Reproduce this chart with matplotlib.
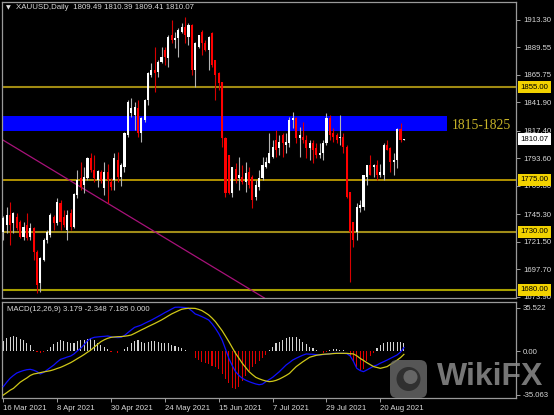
import matplotlib
matplotlib.use("Agg")
import numpy as np
import matplotlib.pyplot as plt
import matplotlib.transforms as mtransforms
from matplotlib.patches import FancyBboxPatch, Circle

plt.rcParams["font.family"] = ["Liberation Sans", "DejaVu Sans"]

# XAUUSD daily candles, bar 0 = 16 Mar 2021
OPEN = [1730.2, 1736.0, 1744.6, 1737.4, 1743.1, 1738.8, 1725.9, 1735.9, 1725.9, 1733.1,
        1712.9, 1685.5, 1705.7, 1723.0, 1727.3, 1743.1, 1737.4, 1754.7, 1743.1, 1731.6,
        1746.0, 1734.5, 1761.9, 1776.3, 1770.5, 1776.3, 1793.6, 1783.5, 1774.9, 1782.1,
        1768.0, 1782.0, 1773.4, 1774.9, 1792.1, 1777.7, 1786.4, 1813.8, 1832.5, 1831.0,
        1836.8, 1815.2, 1826.7, 1844.0, 1865.6, 1870.0, 1868.5, 1877.1, 1887.2, 1880.1,
        1900.2, 1895.9, 1897.3, 1903.1, 1907.4, 1898.8, 1908.9, 1870.0, 1890.1, 1903.1,
        1893.0, 1887.2, 1901.7, 1878.6, 1867.1, 1859.9, 1810.9, 1796.5, 1763.3, 1784.0,
        1777.0, 1777.7, 1773.4, 1782.0, 1777.7, 1760.4, 1769.1, 1776.3, 1786.4, 1789.3,
        1795.0, 1809.4, 1802.3, 1813.8, 1805.1, 1806.6, 1826.7, 1828.2, 1810.9, 1812.3,
        1809.4, 1802.3, 1806.6, 1802.3, 1796.5, 1797.9, 1806.6, 1828.2, 1815.2, 1813.8,
        1810.9, 1812.3, 1803.7, 1764.7, 1738.8, 1730.2, 1750.4, 1751.8, 1777.7, 1787.8,
        1786.4, 1787.8, 1779.2, 1779.2, 1805.1, 1802.3, 1790.7, 1792.1, 1818.9, 1809.49]
HIGH = [1743.7, 1751.2, 1756.1, 1747.5, 1746.0, 1740.3, 1738.5, 1746.0, 1737.3, 1734.5,
        1714.3, 1708.5, 1724.4, 1731.6, 1746.0, 1744.6, 1759.0, 1757.6, 1748.9, 1748.9,
        1749.5, 1763.3, 1783.5, 1790.6, 1786.3, 1795.0, 1797.9, 1796.5, 1783.5, 1783.5,
        1790.0, 1789.0, 1776.3, 1797.9, 1799.4, 1789.3, 1816.6, 1844.0, 1845.5, 1842.0,
        1844.0, 1829.6, 1845.0, 1868.5, 1875.7, 1890.1, 1878.6, 1890.1, 1890.1, 1900.2,
        1913.2, 1903.1, 1906.0, 1910.3, 1916.1, 1910.3, 1910.0, 1894.4, 1900.5, 1904.5,
        1896.0, 1899.0, 1903.0, 1878.6, 1868.5, 1859.9, 1812.3, 1796.5, 1786.3, 1789.3,
        1795.0, 1787.8, 1790.7, 1786.3, 1779.0, 1774.9, 1783.5, 1795.0, 1795.0, 1815.2,
        1809.4, 1818.1, 1813.8, 1815.2, 1815.2, 1829.6, 1833.9, 1829.6, 1820.9, 1825.3,
        1813.8, 1809.4, 1809.4, 1807.0, 1806.6, 1809.4, 1833.1, 1831.0, 1819.5, 1815.2,
        1831.0, 1815.2, 1805.1, 1764.7, 1738.8, 1754.7, 1757.6, 1779.2, 1787.8, 1796.5,
        1788.7, 1792.1, 1788.7, 1806.6, 1809.4, 1803.7, 1797.9, 1819.5, 1823.8, 1810.39]
LOW = [1723.0, 1728.8, 1718.6, 1728.8, 1731.6, 1724.4, 1723.0, 1723.0, 1723.0, 1705.7,
       1677.0, 1677.6, 1705.0, 1720.1, 1725.9, 1731.6, 1736.0, 1731.6, 1734.5, 1723.0,
       1731.6, 1733.1, 1759.0, 1766.2, 1763.3, 1774.9, 1782.1, 1773.4, 1768.5, 1772.0,
       1762.0, 1755.0, 1766.2, 1766.2, 1773.4, 1769.7, 1782.0, 1812.3, 1829.6, 1818.0,
       1812.3, 1808.0, 1825.3, 1839.7, 1864.2, 1851.2, 1864.2, 1875.7, 1874.3, 1872.8,
       1893.0, 1888.7, 1881.5, 1902.0, 1893.0, 1892.0, 1865.6, 1855.5, 1889.0, 1882.9,
       1886.0, 1870.0, 1872.8, 1844.0, 1852.7, 1803.7, 1760.4, 1762.7, 1760.4, 1772.0,
       1766.0, 1771.0, 1764.7, 1768.0, 1750.6, 1757.6, 1766.2, 1774.9, 1784.9, 1789.3,
       1794.0, 1795.0, 1796.5, 1795.0, 1797.9, 1803.7, 1819.5, 1807.0, 1795.0, 1806.6,
       1793.6, 1792.1, 1789.3, 1793.6, 1793.6, 1792.1, 1805.1, 1809.4, 1808.0, 1806.6,
       1805.1, 1797.9, 1759.0, 1686.9, 1717.2, 1723.0, 1747.5, 1749.0, 1770.5, 1779.2,
       1777.7, 1774.9, 1777.7, 1774.9, 1800.8, 1782.0, 1779.2, 1785.0, 1808.0, 1809.41]
CLOSE = [1741.7, 1744.6, 1736.0, 1746.0, 1733.1, 1725.9, 1734.5, 1724.4, 1733.1, 1712.9,
         1684.1, 1707.1, 1723.0, 1730.2, 1744.6, 1737.4, 1756.1, 1738.8, 1736.0, 1744.6,
         1734.5, 1762.7, 1774.9, 1769.1, 1777.7, 1793.6, 1783.5, 1776.3, 1783.0, 1774.9,
         1782.0, 1775.0, 1769.1, 1793.6, 1777.7, 1787.8, 1815.2, 1842.6, 1836.8, 1838.0,
         1815.2, 1828.2, 1844.0, 1867.1, 1870.0, 1867.1, 1877.1, 1881.5, 1881.5, 1898.8,
         1895.9, 1897.3, 1904.5, 1907.4, 1900.2, 1908.9, 1870.0, 1893.0, 1900.2, 1893.0,
         1887.2, 1898.8, 1874.3, 1865.6, 1858.5, 1810.9, 1763.3, 1763.3, 1786.0, 1775.0,
         1779.0, 1773.4, 1780.6, 1770.5, 1757.6, 1770.5, 1776.3, 1787.8, 1790.7, 1797.9,
         1803.7, 1800.8, 1808.0, 1806.6, 1808.0, 1826.7, 1828.2, 1810.9, 1813.8, 1809.4,
         1802.3, 1806.6, 1800.8, 1796.5, 1797.9, 1806.6, 1828.2, 1813.8, 1812.3, 1809.4,
         1812.3, 1803.7, 1760.4, 1730.2, 1723.0, 1751.8, 1753.2, 1779.2, 1787.8, 1779.2,
         1787.8, 1779.2, 1782.0, 1805.1, 1800.8, 1790.7, 1792.1, 1818.7, 1809.4, 1810.07]

# MACD(12,26,9) pane
MACD_MAIN = [-28.6, -25.0, -21.8, -19.5, -17.5, -16.4, -15.5, -14.8, -14.5, -15.2,
             -16.4, -18.3, -17.0, -15.0, -13.0, -11.0, -8.5, -6.4, -5.5, -4.5,
             -3.7, -2.0, 0.5, 2.6, 5.5, 8.8, 10.5, 11.5, 11.8, 12.1,
             12.3, 12.6, 12.0, 11.5, 11.3, 11.5, 13.0, 15.3, 17.5, 19.6,
             20.5, 21.5, 22.9, 24.2, 25.5, 27.0, 28.5, 30.0, 31.6, 33.0,
             34.5, 35.9, 36.0, 35.9, 35.7, 35.1, 33.0, 30.5, 29.5, 28.3,
             27.0, 25.6, 22.5, 18.8, 14.5, 9.3, 2.0, -5.6, -11.5, -16.4,
             -19.5, -21.8, -23.3, -24.5, -25.5, -26.4, -27.0, -26.5, -24.5, -22.8,
             -21.0, -18.7, -16.4, -13.7, -11.0, -9.0, -6.9, -5.5, -4.2, -3.0,
             -2.0, -2.2, -2.3, -2.6, -2.8, -2.5, -2.3, -1.8, -1.5, -1.5,
             -1.5, -1.5, -1.8, -3.5, -8.0, -13.7, -15.5, -16.4, -15.0, -13.5,
             -12.0, -11.0, -9.5, -8.3, -7.0, -5.6, -4.2, -2.8, -0.5, 3.179]
MACD_SIGNAL = [-35.4, -33.5, -31.5, -30.0, -27.5, -25.0, -23.2, -21.5, -19.5, -18.3,
               -17.8, -17.2, -16.6, -16.1, -15.6, -14.8, -13.8, -12.9, -11.7, -10.4,
               -9.1, -7.5, -5.8, -4.2, -2.5, -0.6, 1.2, 3.5, 5.8, 8.0,
               9.5, 10.7, 11.5, 11.8, 12.0, 12.1, 12.4, 12.8, 13.4, 14.7,
               16.1, 17.5, 18.8, 20.2, 21.5, 22.8, 24.2, 25.6, 27.2, 28.9,
               30.5, 31.8, 33.1, 34.3, 34.8, 35.1, 35.1, 35.0, 34.2, 33.2,
               31.5, 29.7, 27.2, 24.3, 20.6, 16.9, 12.5, 8.0, 3.2, -1.5,
               -5.5, -9.6, -13.0, -16.4, -18.8, -21.0, -22.2, -23.2, -24.0, -24.5,
               -24.2, -23.5, -22.4, -21.0, -19.5, -17.8, -15.0, -12.3, -10.3, -8.3,
               -6.5, -4.7, -3.9, -3.1, -2.7, -2.3, -2.1, -2.0, -1.7, -1.5,
               -1.5, -1.5, -1.5, -1.8, -2.0, -3.5, -5.6, -7.3, -9.1, -10.7,
               -12.3, -13.0, -13.7, -13.0, -12.3, -10.5, -9.0, -7.0, -5.0, -2.348]
MACD_HIST = [8.8, 10.7, 12.1, 12.6, 12.1, 9.9, 9.3, 7.2, 5.3, 1.2,
             -0.8, -0.9, -0.5, 1.2, 3.9, 6.1, 8.0, 9.3, 8.8, 8.0,
             7.2, 7.2, 8.8, 9.3, 9.3, 9.9, 10.7, 9.3, 7.2, 5.3,
             3.9, 1.8, -0.5, 0.7, -0.9, 0.3, 1.8, 3.9, 6.6, 8.8,
             9.3, 8.0, 7.2, 8.0, 8.8, 8.8, 8.0, 7.2, 7.2, 6.6,
             5.3, 4.5, 3.9, 2.6, 1.2, 0.0, 0.0, -5.6, -7.0, -8.3,
             -9.6, -10.0, -11.5, -12.5, -14.5, -18.0, -22.0, -26.0, -30.0, -30.5,
             -28.5, -24.0, -20.0, -16.0, -13.0, -10.5, -8.0, -5.0, -2.5, 1.5,
             4.0, 6.5, 8.0, 9.3, 10.7, 11.5, 12.1, 11.5, 10.0, 7.5,
             6.0, 4.0, 2.5, 1.2, 0.3, -0.9, -0.6, 1.5, 1.8, 1.8,
             1.5, 1.0, 0.5, -3.5, -8.0, -12.5, -15.0, -14.0, -8.0, -4.0,
             -1.5, 2.5, 5.5, 7.0, 7.8, 8.0, 7.5, 7.8, 7.5, 7.185]

DATE_BARS = [0, 16, 32, 48, 64, 80, 96, 112]
DATE_LABELS = ["16 Mar 2021", "8 Apr 2021", "30 Apr 2021", "24 May 2021",
               "15 Jun 2021", "7 Jul 2021", "29 Jul 2021", "20 Aug 2021"]
PRICE_TICKS = [1913.30, 1889.55, 1865.75, 1841.90, 1817.40, 1793.60,
               1769.80, 1745.30, 1721.50, 1697.70, 1673.90]
MACD_TICKS = [35.522, 0.0, -35.063]
MACD_TICK_LABELS = ["35.522", "0.00", "-35.063"]

LEVELS = [1855.0, 1775.0, 1730.0, 1680.0]
LEVEL_COLORS = ["#a08a12", "#e0b800", "#a08c18", "#a8a000"]
LEVEL_WIDTHS = [1.5, 1.1, 1.5, 1.5]
ZONE_LOW, ZONE_HIGH = 1817.0, 1830.2
ZONE_END = 131.8
ZONE_TEXT = "1815-1825"
TREND_A = (-0.1, 1809.4)
TREND_B = (58.4, 1706.5)

x = np.arange(len(CLOSE))
o, h, l, c = map(np.array, (OPEN, HIGH, LOW, CLOSE))
up = c >= o

W, H = 554, 415
fig = plt.figure(figsize=(W / 100, H / 100), dpi=100, facecolor="black")
ax1 = fig.add_axes([2 / W, 1 - 298 / H, 514 / W, 296 / H], facecolor="black")
ax2 = fig.add_axes([2 / W, 1 - 398 / H, 514 / W, 96 / H], facecolor="black")

XLIM = (-0.39, 152.3)
for ax in (ax1, ax2):
    ax.set_xlim(*XLIM)
    for sp in ax.spines.values():
        sp.set_color("#9a9a9a")
        sp.set_linewidth(0.9)
    ax.yaxis.tick_right()
    ax.tick_params(axis="y", colors="#a0a0a0", labelcolor="#d8d8d8",
                   labelsize=5.6, length=3, width=0.7, pad=2)

# --- main pane ---
ax1.set_ylim(1672.8, 1928.8)
ax1.set_xticks([])
ax1.set_yticks(PRICE_TICKS)
ax1.set_yticklabels([f"{v:.2f}" for v in PRICE_TICKS])

ax1.fill_between([XLIM[0], ZONE_END], ZONE_LOW, ZONE_HIGH, color="#0000ff",
                 lw=0, zorder=1)
for lev, col, lw in zip(LEVELS, LEVEL_COLORS, LEVEL_WIDTHS):
    ax1.axhline(lev, color=col, lw=lw, zorder=1)
ax1.axline(TREND_A, TREND_B, color="#a8127a", lw=0.9, zorder=1)

body_lo = np.minimum(o, c)
body_h = np.maximum(np.abs(c - o), 0.9)
wick_col = np.where(up, "#b4b4b4", "#d80000")
body_col = np.where(up, "#ffffff", "#ff0000")
ax1.vlines(x, l, h, colors=wick_col, lw=0.8, zorder=3)
ax1.bar(x, body_h, bottom=body_lo, width=0.62, color=body_col, lw=0, zorder=4)

ax1.text(ZONE_END + 1.5, (ZONE_LOW + ZONE_HIGH) / 2 - 1.5, ZONE_TEXT,
         family="Liberation Serif", fontsize=9.8, color="#c8b428",
         ha="left", va="center", zorder=5)

ax1.text(0.0075, 0.982, "\u25bc", transform=ax1.transAxes, fontsize=4.5,
         color="#e0e0e0", ha="left", va="center", family=["DejaVu Sans"])
ax1.text(0.0272, 0.982,
         f"XAUUSD,Daily  {OPEN[-1]:.2f} {HIGH[-1]:.2f} {LOW[-1]:.2f} {CLOSE[-1]:.2f}",
         transform=ax1.transAxes, fontsize=5.7, color="#d8d8d8",
         ha="left", va="center")

for lev in LEVELS:
    ax1.annotate(f"{lev:.2f}", xy=(1, lev), xycoords=("axes fraction", "data"),
                 xytext=(3.2, 0), textcoords="offset points", ha="left",
                 va="center", fontsize=5.6, color="black", annotation_clip=False,
                 bbox=dict(boxstyle="square,pad=0.3", fc="#f2d200", ec="none"))
ax1.annotate(f"{CLOSE[-1]:.2f}", xy=(1, CLOSE[-1]), xycoords=("axes fraction", "data"),
             xytext=(3.2, 0), textcoords="offset points", ha="left", va="center",
             fontsize=5.6, color="black", annotation_clip=False,
             bbox=dict(boxstyle="square,pad=0.3", fc="white", ec="none"))

# --- MACD pane ---
ax2.set_ylim(-37.8, 40.2)
ax2.set_yticks(MACD_TICKS)
ax2.set_yticklabels(MACD_TICK_LABELS)
hist = np.array(MACD_HIST)
ax2.bar(x, hist, width=0.32, color=np.where(hist >= 0, "#d4d4d4", "#e00000"),
        lw=0, zorder=2)
ax2.plot(x, MACD_MAIN, color="#1010ff", lw=0.9, zorder=3)
ax2.plot(x, MACD_SIGNAL, color="#d0c818", lw=0.9, zorder=3)
ax2.text(0.009, 0.927,
         f"MACD(12,26,9) {MACD_MAIN[-1]:.3f} {MACD_SIGNAL[-1]:.3f} {MACD_HIST[-1]:.3f} 0.000",
         transform=ax2.transAxes, fontsize=5.6, color="#d8d8d8",
         ha="left", va="center")

ax2.set_xticks(DATE_BARS)
ax2.set_xticklabels(DATE_LABELS, ha="left")
ax2.tick_params(axis="x", colors="#a0a0a0", labelcolor="#d8d8d8",
                labelsize=5.6, length=3, width=0.7, pad=2)

# watermark
px = mtransforms.IdentityTransform()
fig.add_artist(FancyBboxPatch((390, H - 398), 37, 38,
                              boxstyle="round,pad=0,rounding_size=7",
                              fc="#6c6c6c", ec="none", alpha=0.8, transform=px))
fig.add_artist(Circle((408.5, H - 379), 12, fc="#2c2c2c", ec="none",
                      alpha=0.9, transform=px))
fig.add_artist(Circle((410.5, H - 377), 7, fc="#6c6c6c", ec="none",
                      alpha=0.9, transform=px))
fig.text(437 / W, 1 - 377 / H, "WikiFX", fontsize=23, fontweight="bold",
         color="#8c8c8c", alpha=0.85, ha="left", va="center")

fig.savefig("out.png", dpi=100, facecolor="black")
